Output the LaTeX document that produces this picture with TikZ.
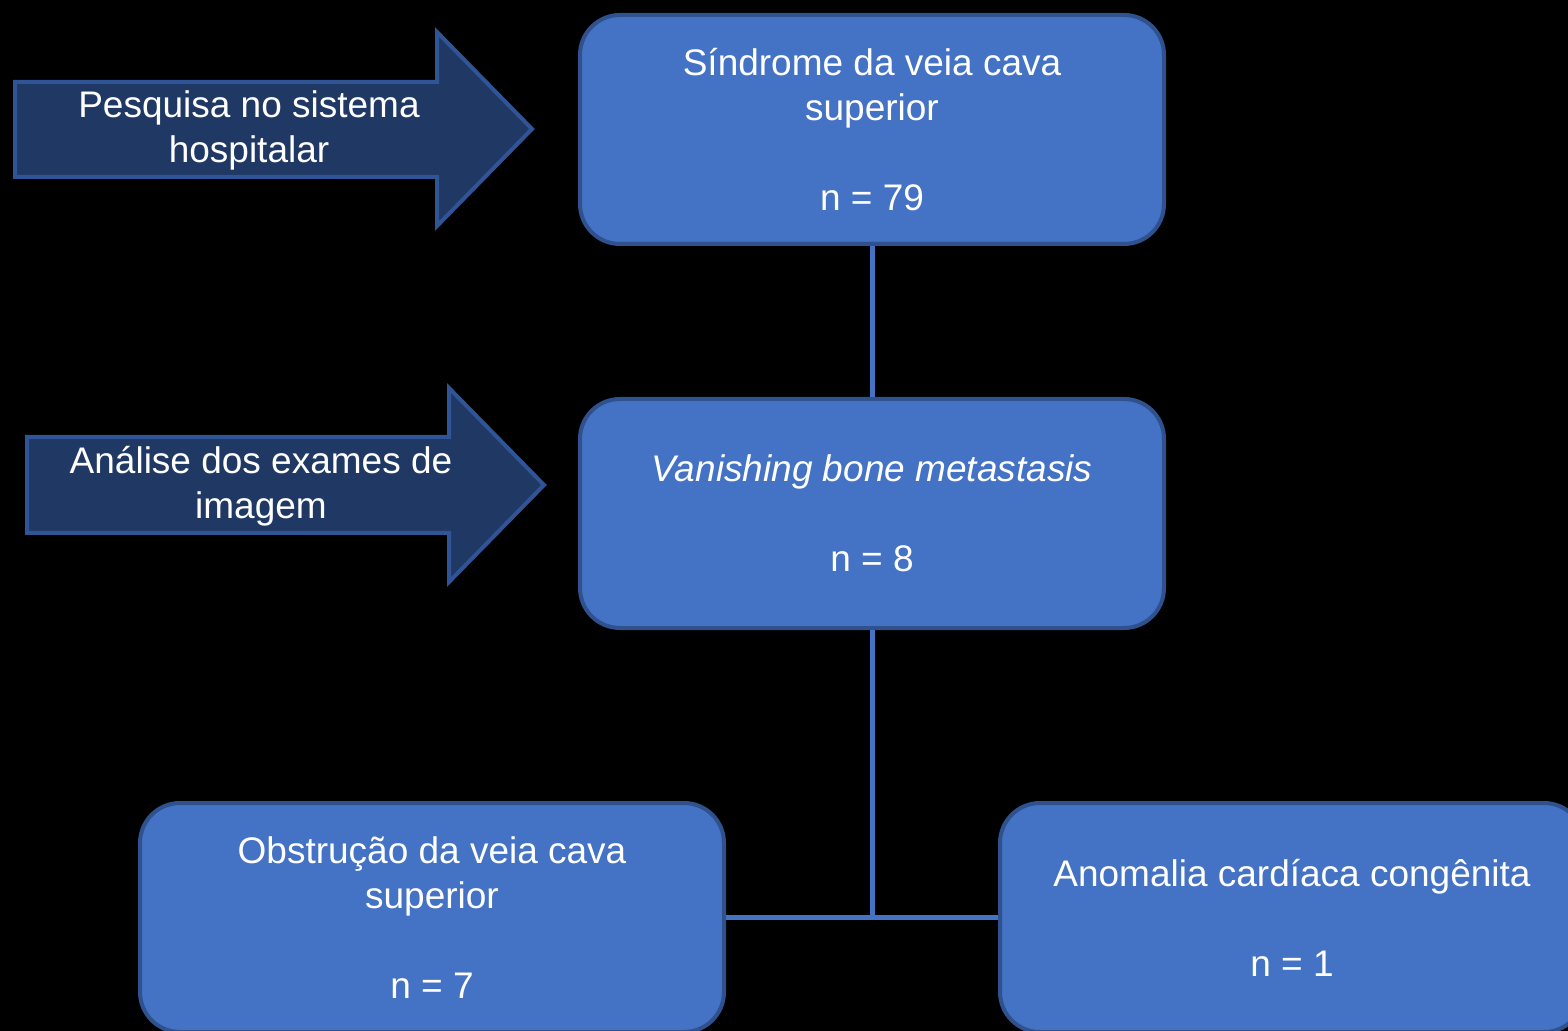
\documentclass[tikz,border=0pt]{standalone}
\usepackage{fontspec}
\setmainfont{Liberation Sans}
\definecolor{boxfill}{HTML}{4472C4}
\definecolor{boxline}{HTML}{2F528F}
\definecolor{arrowfill}{HTML}{203864}
\definecolor{arrowline}{HTML}{2F5597}
\begin{document}
\begin{tikzpicture}[x=0.5pt,y=-0.5pt,
  box/.style={draw=boxline, fill=boxfill, line width=2pt, rounded corners=20pt,
    minimum width=292pt, minimum height=114.5pt, text=white, align=center,
    font=\fontsize{18.5pt}{22.5pt}\selectfont, inner sep=0pt},
  arrowtext/.style={text=white, align=center, font=\fontsize{18.5pt}{22.5pt}\selectfont, inner sep=0pt},
  conn/.style={draw=boxfill, line width=2.5pt},
  arrowshape/.style={draw=arrowline, fill=arrowfill, line width=2pt}]
\useasboundingbox (0,0) rectangle (1568,1031);
\fill[black] (0,0) rectangle (1568,1031);
\clip (0,0) rectangle (1568,1031);
% arrows
\draw[arrowshape] (15,82) -- (437,82) -- (437,32) -- (532,129) -- (437,226) -- (437,177) -- (15,177) -- cycle;
\draw[arrowshape] (27,437) -- (449,437) -- (449,388) -- (544,485) -- (449,582) -- (449,533) -- (27,533) -- cycle;
\node[arrowtext] (a1) at (249,130) {Pesquisa no sistema\\hospitalar};
\node[arrowtext] (a2) at (261,486) {Análise dos exames de\\imagem};
% boxes
\node[box] (b1) at (872,129.5) {Síndrome da veia cava\\superior\\[22.5pt]n = 79};
\node[box] (b2) at (872,513.5) {\itshape Vanishing bone metastasis\\[22.5pt]n = 8};
\node[box] (b3) at (432,917.5) {Obstrução da veia cava\\superior\\[22.5pt]n = 7};
\node[box] (b4) at (1292,917.5) {Anomalia cardíaca congênita\\[22.5pt]n = 1};
% connectors
\coordinate (j) at (872,916);
\draw[conn] (b1.south) -- (b2.north);
\draw[conn] (b2.south) -- (j);
\draw[conn] (b3.east) -- (b4.west);
\end{tikzpicture}
\end{document}
